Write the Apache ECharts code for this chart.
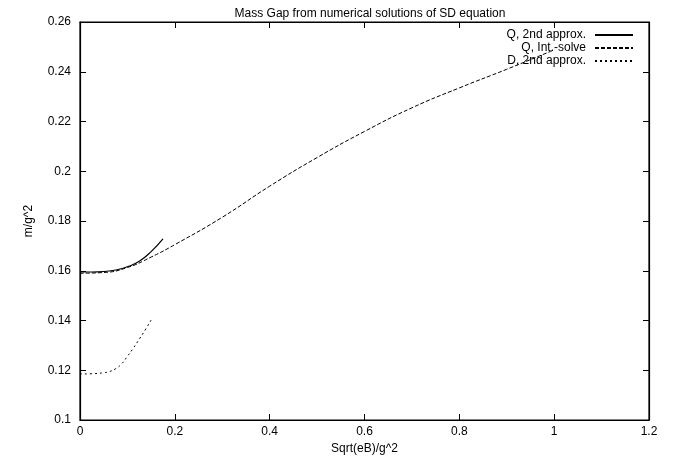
<!DOCTYPE html>
<html>
<head>
<meta charset="utf-8">
<script src="https://cdn.jsdelivr.net/npm/echarts@6/dist/echarts.min.js"></script>
<style>
html, body { margin: 0; padding: 0; background: #fff; }
#main { width: 684px; height: 460px; }
</style>
</head>
<body>
<div id="main"></div>
<script>
// values
var xTicks = [0, 0.2, 0.4, 0.6, 0.8, 1, 1.2];
var yTicks = [0.1, 0.12, 0.14, 0.16, 0.18, 0.2, 0.22, 0.24, 0.26];

var q2ndX = [0, 0.025, 0.05, 0.075, 0.1, 0.125, 0.15, 0.175];
var q2ndY = [0.1595, 0.1595, 0.1597, 0.1603, 0.1616, 0.1638, 0.1677, 0.1728];

var qIntX = [0, 0.05, 0.1, 0.15, 0.2, 0.3, 0.4, 0.5, 0.6, 0.7, 0.8, 0.9, 1.0];
var qIntY = [0.159, 0.1593, 0.1613, 0.1655, 0.1705, 0.1815, 0.194, 0.2055, 0.216, 0.2255, 0.2335, 0.241, 0.2488];

var d2ndX = [0, 0.025, 0.05, 0.0625, 0.075, 0.0875, 0.1, 0.1125, 0.125, 0.1375, 0.15];
var d2ndY = [0.1185, 0.1186, 0.119, 0.1195, 0.1206, 0.1225, 0.1256, 0.1289, 0.1325, 0.1362, 0.1402];

function pairs(xs, ys) {
    var out = [];
    for (var i = 0; i < xs.length; i++) {
        out.push([xs[i], ys[i]]);
    }
    return out;
}

var font = 'Liberation Sans, Arial, sans-serif';
var myChart = echarts.init(document.getElementById('main'));

function tick() {
    return { show: true, inside: true, length: 6, lineStyle: { color: '#000', width: 1 } };
}
function line() {
    return { show: true, onZero: false, lineStyle: { color: '#000', width: 1.2 } };
}

var option = {
    animation: false,
    title: {
        text: 'Mass Gap from numerical solutions of SD equation',
        left: 365,
        textAlign: 'center',
        top: 3,
        textStyle: { fontFamily: font, fontSize: 12, fontWeight: 'normal', color: '#000' }
    },
    legend: {
        right: 45,
        top: 24,
        orient: 'vertical',
        align: 'right',
        itemWidth: 38,
        itemHeight: 10,
        itemGap: 1,
        itemStyle: { color: 'transparent', borderWidth: 0, opacity: 0 },
        textStyle: { fontFamily: font, fontSize: 12, color: '#000', padding: [0, 4, 0, 0] },
        data: ['Q, 2nd approx.', 'Q, Int.-solve', 'D, 2nd approx.']
    },
    grid: { left: 80, right: 35, top: 22, bottom: 40, show: true, borderColor: '#000', borderWidth: 1.2 },
    xAxis: [
        {
            type: 'value',
            min: 0, max: 1.2, interval: 0.2,
            name: 'Sqrt(eB)/g^2',
            nameLocation: 'middle',
            nameGap: 22,
            nameTextStyle: { fontFamily: font, fontSize: 12, color: '#000' },
            axisLine: line(),
            axisTick: tick(),
            splitLine: { show: false },
            axisLabel: { fontFamily: font, fontSize: 12, color: '#000', margin: 6,
                formatter: function (v) { return String(+v.toFixed(2)); } }
        },
        {
            type: 'value', position: 'top',
            min: 0, max: 1.2, interval: 0.2,
            axisLine: line(), axisTick: tick(),
            axisLabel: { show: false }, splitLine: { show: false }
        }
    ],
    yAxis: [
        {
            type: 'value',
            min: 0.1, max: 0.26, interval: 0.02,
            name: 'm/g^2',
            nameLocation: 'middle',
            nameGap: 45,
            nameRotate: 90,
            nameTextStyle: { fontFamily: font, fontSize: 12, color: '#000' },
            axisLine: line(),
            axisTick: tick(),
            splitLine: { show: false },
            axisLabel: { fontFamily: font, fontSize: 12, color: '#000', margin: 9,
                formatter: function (v) { return String(+v.toFixed(2)); } }
        },
        {
            type: 'value', position: 'right',
            min: 0.1, max: 0.26, interval: 0.02,
            axisLine: line(), axisTick: tick(),
            axisLabel: { show: false }, splitLine: { show: false }
        }
    ],
    series: [
        {
            name: 'Q, 2nd approx.',
            type: 'line',
            smooth: 0.5,
            symbol: 'none',
            lineStyle: { color: '#000', width: 1.2, type: 'solid' },
            itemStyle: { color: '#000' },
            data: pairs(q2ndX, q2ndY)
        },
        {
            name: 'Q, Int.-solve',
            type: 'line',
            smooth: 0.5,
            symbol: 'none',
            lineStyle: { color: '#000', width: 1, type: [4, 2] },
            itemStyle: { color: '#000' },
            data: pairs(qIntX, qIntY)
        },
        {
            name: 'D, 2nd approx.',
            type: 'line',
            xAxisIndex: 1,
            yAxisIndex: 1,
            smooth: 0.5,
            symbol: 'none',
            lineStyle: { color: '#000', width: 1, type: [2, 3] },
            itemStyle: { color: '#000' },
            data: pairs(d2ndX, d2ndY)
        }
    ]
};

myChart.setOption(option);
</script>
</body>
</html>
